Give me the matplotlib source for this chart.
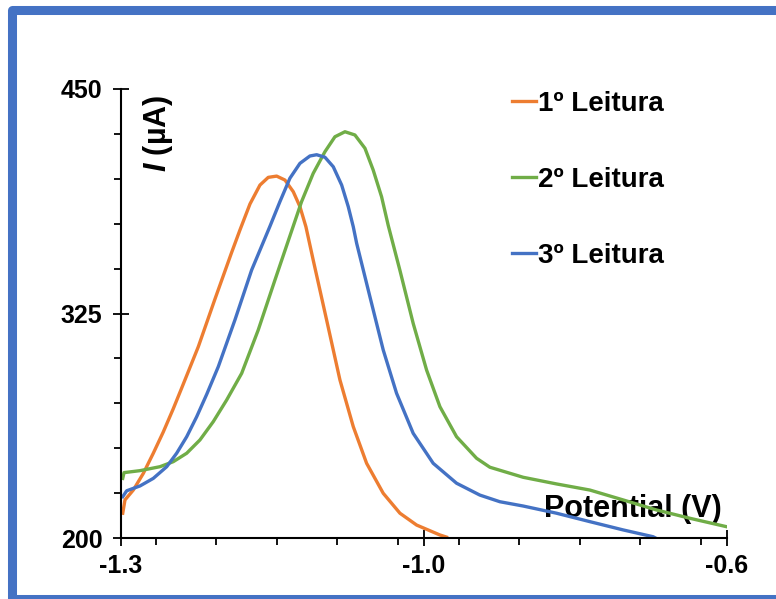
import matplotlib
matplotlib.use("Agg")
import matplotlib.pyplot as plt
from matplotlib.patches import Rectangle
from matplotlib.ticker import MultipleLocator, FixedLocator

plt.rcParams['font.family'] = ['Liberation Sans', 'DejaVu Sans']
plt.rcParams['font.weight'] = 'bold'
plt.rcParams['mathtext.fontset'] = 'custom'
plt.rcParams['mathtext.bfit'] = 'Liberation Sans:italic:bold'
plt.rcParams['mathtext.rm'] = 'Liberation Sans:bold'

# 1º leitura (orange)
x1 = [-1.298, -1.2954, -1.2858, -1.2742, -1.2627, -1.2512, -1.2396, -1.2299,
      -1.2107, -1.1915, -1.1722, -1.1626, -1.151, -1.1395, -1.1299, -1.1202,
      -1.1106, -1.101, -1.0933, -1.0864, -1.078, -1.0625, -1.0471, -1.0317,
      -1.0163, -0.9971, -0.9778, -0.9585, -0.9317, -0.924]
y1 = [213.8, 221.2, 226.7, 236.0, 247.2, 259.0, 272.0, 283.5,
      306.5, 333.0, 359.0, 371.5, 386.0, 396.5, 400.8, 401.5,
      399.3, 392.8, 384.5, 373.3, 354.8, 321.4, 288.0, 262.0,
      241.6, 224.9, 213.8, 207.2, 201.7, 200.5]

# 2º leitura (green)
x2 = [-1.298, -1.2965, -1.278, -1.255, -1.2396, -1.2241, -1.2088, -1.1934,
      -1.178, -1.1606, -1.1415, -1.1222, -1.1029, -1.0914, -1.078, -1.0644,
      -1.0529, -1.0413, -1.0298, -1.0182, -1.0087, -0.999, -0.9913, -0.9778,
      -0.9625, -0.947, -0.9316, -0.9124, -0.8893, -0.8739, -0.8354, -0.7969,
      -0.7584, -0.72, -0.6814, -0.643, -0.6006]
y2 = [233.2, 236.4, 237.5, 239.7, 242.5, 247.2, 254.6, 264.8,
      276.8, 291.7, 315.8, 343.6, 371.0, 387.3, 403.0, 415.1,
      423.4, 426.2, 424.4, 417.0, 404.9, 390.0, 374.0, 349.0,
      319.5, 293.5, 273.1, 256.4, 244.4, 239.4, 233.8, 230.1,
      226.7, 221.2, 215.6, 211.0, 206.3]

# 3º leitura (blue)
x3 = [-1.298, -1.2934, -1.278, -1.2627, -1.2472, -1.2357, -1.2241, -1.2126,
      -1.201, -1.1876, -1.1684, -1.1491, -1.128, -1.1164, -1.1049, -1.0933,
      -1.0818, -1.074, -1.0644, -1.0548, -1.0451, -1.0375, -1.0317, -1.0278,
      -1.0125, -0.9971, -0.9817, -0.9625, -0.9394, -0.9124, -0.8855, -0.8624,
      -0.8354, -0.7969, -0.7584, -0.72, -0.6853, -0.6826]
y3 = [223.0, 226.3, 229.0, 233.2, 239.7, 247.2, 256.4, 267.5,
      280.0, 295.4, 321.4, 349.2, 373.5, 387.3, 400.3, 408.6,
      412.7, 413.4, 412.0, 406.7, 396.5, 384.5, 373.3, 364.1,
      334.4, 304.7, 280.6, 258.3, 241.6, 230.5, 223.9, 220.2,
      217.8, 213.8, 209.1, 204.5, 200.7, 200.0]

labels = ["1º Leitura", "2º Leitura", "3º Leitura"]
colors = ["#ED7D31", "#70AD47", "#4472C4"]

xticks = [-1.3, -0.95, -0.6]
xtick_labels = ["-1.3", "-1.0", "-0.6"]
yticks = [200, 325, 450]

fig = plt.figure(figsize=(7.76, 5.99), dpi=100)
ax = fig.add_axes([121 / 776, 61 / 599, 606 / 776, 449 / 599])

for xs, ys, lab, c in zip([x1, x2, x3], [y1, y2, y3], labels, colors):
    ax.plot(xs, ys, color=c, lw=2.4, label=lab, solid_joinstyle='round')

ax.set_xlim(-1.3, -0.6)
ax.set_ylim(200, 450)
ax.xaxis.set_major_locator(FixedLocator(xticks))
ax.set_xticklabels(xtick_labels)
ax.xaxis.set_minor_locator(MultipleLocator(0.07))
ax.yaxis.set_major_locator(FixedLocator(yticks))
ax.yaxis.set_minor_locator(MultipleLocator(25))

for s in ['top', 'right']:
    ax.spines[s].set_visible(False)
for s in ['left', 'bottom']:
    ax.spines[s].set_linewidth(1.5)

ax.tick_params(which='major', direction='inout', length=11, width=1.3,
               labelsize=18, color='black')
ax.tick_params(which='minor', direction='out', length=5, width=1.3)
ax.tick_params(axis='x', which='major', pad=6)
ax.tick_params(axis='y', which='major', pad=8)

ax.set_xlabel("Potential (V)", fontsize=22, fontweight='bold', ha='right', va='baseline')
ax.xaxis.set_label_coords(0.9917, 0.047)
ax.set_ylabel(r"$\mathbfit{I}$ (µA)", fontsize=22, fontweight='bold', ha='right', va='center')
ax.yaxis.set_label_coords(0.061, 0.987)

leg = ax.legend(loc='upper left', bbox_to_anchor=(512 / 776, 1 - 91 / 599),
                bbox_transform=fig.transFigure, frameon=False, fontsize=20,
                handlelength=0.85, handletextpad=0.1, labelspacing=1.8,
                borderpad=0, borderaxespad=0)
for line in leg.get_lines():
    line.set_linewidth(2.4)

# blue border round the chart
fig.add_artist(Rectangle((11.5 / 776, 1 - 598.5 / 599), 800 / 776, 589 / 599,
                         transform=fig.transFigure, fill=False,
                         edgecolor='#4472C4', lw=6.5, joinstyle='round'))

fig.savefig("out.png", dpi=100)
